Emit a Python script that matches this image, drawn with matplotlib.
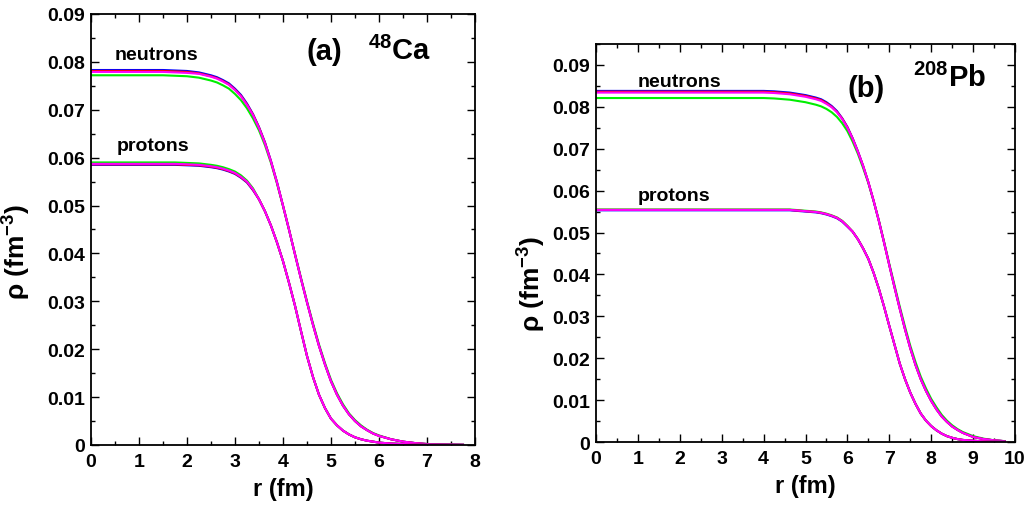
import numpy as np
import matplotlib
matplotlib.use('Agg')
import matplotlib.pyplot as plt
from matplotlib.ticker import MultipleLocator, FuncFormatter

plt.rcParams['font.family'] = ['Liberation Sans', 'DejaVu Sans']
plt.rcParams['font.weight'] = 'bold'
plt.rcParams['mathtext.fontset'] = 'custom'
plt.rcParams['mathtext.rm'] = 'Liberation Sans:bold'
plt.rcParams['mathtext.it'] = 'Liberation Sans:bold'
plt.rcParams['mathtext.bf'] = 'Liberation Sans:bold'

# ---------------- 48Ca ----------------
# r grid: coarse on the plateau, finer through the surface, coarse in the tail
r_ca = np.concatenate([np.arange(0, 2.4, 0.25), np.arange(2.5, 5.9, 0.125),
                       np.arange(6.0, 7.76, 0.25)])

ca_n_tail = [0.0500, 0.0450, 0.0398, 0.0347, 0.0298, 0.0251, 0.0207, 0.0168,
             0.0133, 0.0105, 0.0082, 0.0064, 0.0050, 0.0039, 0.0031, 0.0024,
             0.0019, 0.0012, 0.0007, 0.0004, 0.0002, 0.0001, 0.00006, 0.00003]
ca_n_magenta = [0.0779] * 7 + [0.0778, 0.0777, 0.0775,
                               0.0769, 0.0765, 0.0759, 0.0752, 0.0741, 0.0728,
                               0.0710, 0.0689, 0.0662, 0.0630, 0.0592, 0.0548] + ca_n_tail
ca_n_blue = [0.0783] * 7 + [0.0782, 0.0781, 0.0778,
                            0.0772, 0.0768, 0.0762, 0.0755, 0.0744, 0.0731,
                            0.0713, 0.0691, 0.0664, 0.0632, 0.0593, 0.0549] + ca_n_tail
ca_n_red = [0.0781] * 7 + [0.0780, 0.0779, 0.0776,
                           0.0770, 0.0766, 0.0760, 0.0753, 0.0742, 0.0729,
                           0.0711, 0.0690, 0.0663, 0.0631, 0.0592, 0.0548] + ca_n_tail
ca_n_green = [0.0772] * 7 + [0.0771, 0.0770, 0.0767,
                             0.0761, 0.0757, 0.0751, 0.0744, 0.0733, 0.0720,
                             0.0703, 0.0682, 0.0657, 0.0626, 0.0589, 0.0546,
                             0.0499, 0.0450, 0.0399, 0.0349, 0.0300, 0.0254,
                             0.0210, 0.0171, 0.0136, 0.0108, 0.0085, 0.0066,
                             0.0052, 0.0041, 0.0032, 0.0025,
                             0.0020, 0.0012, 0.0007, 0.0004, 0.0002, 0.0001,
                             0.00006, 0.00003]

ca_p_tail = [0.0513, 0.0488, 0.0458, 0.0423, 0.0384, 0.0339, 0.0291, 0.0238,
             0.0186, 0.0142, 0.0105, 0.0077, 0.0055, 0.0041, 0.0030, 0.0022,
             0.0016, 0.0012, 0.0009, 0.0007,
             0.0005, 0.0003, 0.0002, 0.0001, 0.00006, 0.00003, 0.00002, 0.00001]
ca_p_magenta = [0.0587] * 8 + [0.0586, 0.0585,
                               0.0582, 0.0580, 0.0577, 0.0573, 0.0568, 0.0560,
                               0.0550, 0.0534] + ca_p_tail
ca_p_blue = [0.0585] * 8 + [0.0584, 0.0583,
                            0.0580, 0.0578, 0.0575, 0.0571, 0.0566, 0.0558,
                            0.0548, 0.0532] + ca_p_tail
ca_p_red = [0.0586] * 8 + [0.0585, 0.0584,
                           0.0581, 0.0579, 0.0576, 0.0572, 0.0567, 0.0559,
                           0.0549, 0.0533] + ca_p_tail
ca_p_green = [0.0590] * 8 + [0.0589, 0.0588,
                             0.0585, 0.0583, 0.0580, 0.0576, 0.0571, 0.0563,
                             0.0552, 0.0536] + ca_p_tail

# ---------------- 208Pb ----------------
r_pb = np.concatenate([np.arange(0, 4.3, 0.25), np.arange(4.5, 8.9, 0.125),
                       np.arange(9.0, 9.76, 0.25)])

pb_n_tail = [0.0620, 0.0576, 0.0528, 0.0476, 0.0422, 0.0369, 0.0318, 0.0269,
             0.0224, 0.0184, 0.0150, 0.0122, 0.0098, 0.0078, 0.0061, 0.0048,
             0.0037, 0.0029, 0.0022, 0.0017,
             0.0012, 0.0007, 0.0004, 0.0002]
pb_n_magenta = [0.0834] * 17 + [0.0833,
                                0.0831, 0.0830, 0.0828, 0.0826, 0.0824, 0.0821,
                                0.0818, 0.0814, 0.0807, 0.0799, 0.0787, 0.0771,
                                0.0750, 0.0724, 0.0693, 0.0659] + pb_n_tail
pb_n_blue = [0.0838] * 17 + [0.0837,
                             0.0835, 0.0834, 0.0832, 0.0830, 0.0828, 0.0825,
                             0.0822, 0.0818, 0.0811, 0.0802, 0.0790, 0.0773,
                             0.0752, 0.0725, 0.0694, 0.0659] + pb_n_tail
pb_n_red = [0.0836] * 17 + [0.0835,
                            0.0833, 0.0832, 0.0830, 0.0828, 0.0826, 0.0823,
                            0.0820, 0.0816, 0.0809, 0.0800, 0.0788, 0.0772,
                            0.0751, 0.0724, 0.0693, 0.0659] + pb_n_tail
pb_n_green = [0.0821] * 17 + [0.0820,
                              0.0818, 0.0817, 0.0815, 0.0813, 0.0811, 0.0808,
                              0.0805, 0.0801, 0.0795, 0.0787, 0.0776, 0.0761,
                              0.0742, 0.0717, 0.0688, 0.0654,
                              0.0618, 0.0575, 0.0529, 0.0478, 0.0425, 0.0374,
                              0.0323, 0.0275, 0.0230, 0.0191, 0.0156, 0.0128,
                              0.0103, 0.0083, 0.0065, 0.0051, 0.0040, 0.0031,
                              0.0024, 0.0019,
                              0.0014, 0.0008, 0.0004, 0.0002]

pb_p_tail = [0.0502, 0.0484, 0.0462, 0.0437, 0.0404, 0.0366, 0.0323, 0.0277,
             0.0232, 0.0187, 0.0150, 0.0118, 0.0091, 0.0068, 0.0051, 0.0038,
             0.0028, 0.0020, 0.0014, 0.0010, 0.0007, 0.0005, 0.0004,
             0.0003, 0.00015, 0.00008, 0.00004]
pb_p_magenta = [0.0554] * 18 + [0.0554, 0.0554, 0.0553, 0.0552, 0.0551, 0.0550,
                                0.0549, 0.0547, 0.0544, 0.0540, 0.0535, 0.0527,
                                0.0515] + pb_p_tail
pb_p_blue = [0.0553] * 18 + [0.0553, 0.0553, 0.0552, 0.0551, 0.0550, 0.0549,
                             0.0548, 0.0546, 0.0543, 0.0539, 0.0534, 0.0526,
                             0.0514] + pb_p_tail
pb_p_red = [0.0554] * 18 + [0.0554, 0.0554, 0.0553, 0.0552, 0.0551, 0.0550,
                            0.0549, 0.0547, 0.0544, 0.0540, 0.0535, 0.0527,
                            0.0515] + pb_p_tail
pb_p_green = [0.0555] * 18 + [0.0555, 0.0555, 0.0554, 0.0553, 0.0552, 0.0551,
                              0.0550, 0.0548, 0.0545, 0.0541, 0.0536, 0.0528,
                              0.0516] + pb_p_tail

COLORS = {"green": "#00ee00", "blue": "#0000ff", "red": "#ff0000", "magenta": "#ff00ff"}


def yfmt(v, pos):
    return "0" if abs(v) < 1e-9 else f"{v:.2f}"


def style_axes(ax, xmax, ymax, ylab_xy):
    ax.set_xlim(0, xmax)
    ax.set_ylim(0, ymax)
    ax.xaxis.set_major_locator(MultipleLocator(1))
    ax.xaxis.set_minor_locator(MultipleLocator(0.5))
    ax.yaxis.set_major_locator(MultipleLocator(0.01))
    ax.yaxis.set_minor_locator(MultipleLocator(0.005))
    ax.yaxis.set_major_formatter(FuncFormatter(yfmt))
    ax.tick_params(which="both", direction="in", top=True, right=True,
                   labelsize=14, width=1.0)
    ax.tick_params(axis="y", pad=4)
    ax.tick_params(axis="x", pad=6)
    ax.tick_params(which="major", length=6)
    ax.tick_params(which="minor", length=3)
    for sp in ax.spines.values():
        sp.set_linewidth(1.3)
    ax.set_xlabel("r (fm)", fontsize=17, fontweight="bold", labelpad=5)
    ax.set_ylabel(r"ρ (fm$^{-3}$)", fontsize=19, fontweight="bold")
    ax.yaxis.set_label_coords(*ylab_xy)


fig = plt.figure(figsize=(10.29, 5.06), dpi=100)
ax1 = fig.add_axes([0.0884, 0.1186, 0.3732, 0.8518])
ax2 = fig.add_axes([0.5792, 0.1245, 0.4072, 0.7866])

for ax, r, series in [
    (ax1, r_ca, [("green", ca_n_green), ("blue", ca_n_blue), ("red", ca_n_red), ("magenta", ca_n_magenta),
                 ("green", ca_p_green), ("blue", ca_p_blue), ("red", ca_p_red), ("magenta", ca_p_magenta)]),
    (ax2, r_pb, [("green", pb_n_green), ("blue", pb_n_blue), ("red", pb_n_red), ("magenta", pb_n_magenta),
                 ("green", pb_p_green), ("blue", pb_p_blue), ("red", pb_p_red), ("magenta", pb_p_magenta)]),
]:
    for cname, vals in series:
        ax.plot(r, vals, color=COLORS[cname], lw=1.5)

style_axes(ax1, 8, 0.09, (-0.15, 0.45))
style_axes(ax2, 10, 0.095, (-0.115, 0.40))

ax1.text(0.5, 0.0805, "neutrons", fontsize=14, fontweight="bold", va="baseline")
ax1.text(0.54, 0.0615, "protons", fontsize=14, fontweight="bold", va="baseline")
ax1.text(4.5, 0.0805, "(a)", fontsize=21, fontweight="bold", va="baseline")
ax1.text(5.77, 0.0805, r"$^{48}$Ca", fontsize=21, fontweight="bold", va="baseline")

ax2.text(1.0, 0.0850, "neutrons", fontsize=14, fontweight="bold", va="baseline")
ax2.text(1.0, 0.0578, "protons", fontsize=14, fontweight="bold", va="baseline")
ax2.text(6.0, 0.0826, "(b)", fontsize=21, fontweight="bold", va="baseline")
ax2.text(7.57, 0.0850, r"$^{208}$Pb", fontsize=21, fontweight="bold", va="baseline")

fig.savefig("out.png", dpi=100)
plt.close(fig)
